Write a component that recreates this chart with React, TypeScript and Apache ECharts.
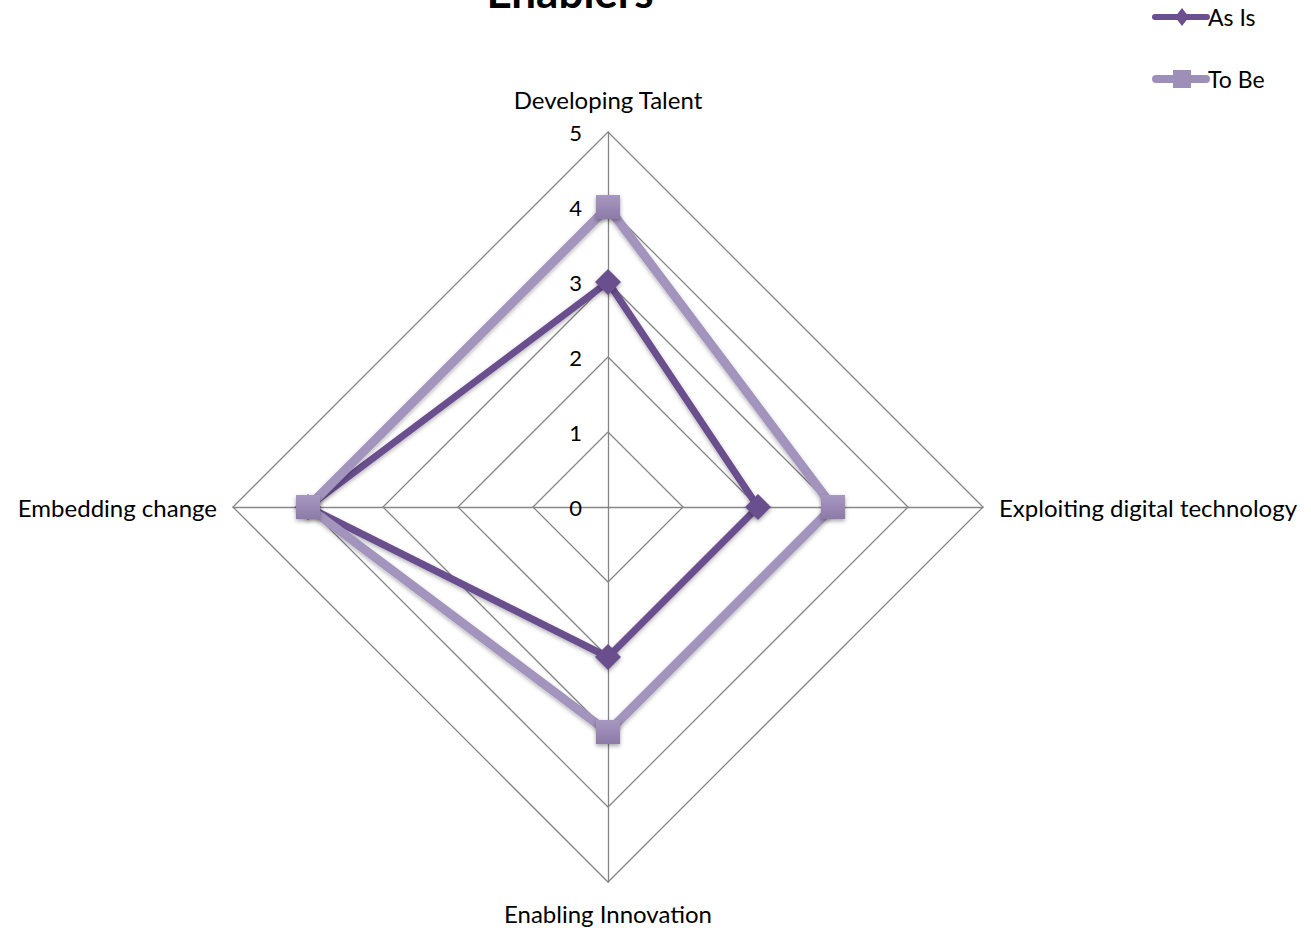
import React, { useEffect, useRef } from "react";
import * as echarts from "echarts";

const indicatorNames = [
  "Developing Talent",
  "Embedding change",
  "Enabling Innovation",
  "Exploiting digital technology",
];
const maxValue = 5;
const asIs = [3, 4, 2, 2];
const toBe = [4, 4, 3, 3];
const seriesNames = ["As Is", "To Be"];
const titleText = "Enablers";

const FONT = "Lato, 'Open Sans', sans-serif";

const asIsIcon =
  "path://M3,6 L55,6 A3,3 0 0 1 55,12 L3,12 A3,3 0 0 1 3,6 Z M30,0 L37,9 L30,18 L23,9 Z";
const toBeIcon =
  "path://M4,5 L54,5 A4,4 0 0 1 54,13 L4,13 A4,4 0 0 1 4,5 Z M21,0 L39,0 L39,18 L21,18 Z";

export default function App() {
  const ref = useRef<HTMLDivElement>(null);
  useEffect(() => {
    document.body.style.margin = "0";
    const chart = echarts.init(ref.current!, null, { renderer: "svg" });
    chart.setOption({
      animation: false,
      backgroundColor: "#ffffff",
      textStyle: { fontFamily: FONT },
      graphic: [
        {
          type: "text",
          x: 570,
          y: -31,
          style: {
            text: titleText,
            align: "center",
            verticalAlign: "top",
            font: "bold 44px " + FONT,
            fill: "#000",
          },
        },
      ],
      legend: {
        orient: "vertical",
        left: 1147,
        top: 0,
        itemGap: 38,
        itemWidth: 58,
        itemHeight: 18,
        textStyle: {
          fontSize: 23,
          lineHeight: 24,
          color: "#000",
          fontFamily: FONT,
          padding: [0, 0, 0, -7],
        },
        data: [
          { name: seriesNames[0], icon: asIsIcon, itemStyle: { color: "#6b4f8e" } },
          { name: seriesNames[1], icon: toBeIcon, itemStyle: { color: "#9e8fb9" } },
        ],
      },
      radar: {
        center: [608, 507],
        radius: 375,
        startAngle: 90,
        splitNumber: 5,
        shape: "polygon",
        nameGap: 16,
        axisName: {
          color: "#000",
          fontSize: 24,
          lineHeight: 24,
          fontFamily: FONT,
          padding: [3, 0, 5, 0],
        },
        splitArea: { show: false },
        splitLine: { lineStyle: { color: "#868686", width: 1.3 } },
        axisLine: { lineStyle: { color: "#868686", width: 1.3 } },
        axisTick: { show: false },
        axisLabel: { show: false },
        indicator: indicatorNames.map((n, i) => ({
          name: n,
          max: maxValue,
          min: 0,
          axisLabel:
            i === 0
              ? { show: true, color: "#000", fontSize: 22, fontFamily: FONT, margin: 26 }
              : { show: false },
        })),
      },
      series: [
        {
          type: "radar",
          z: 2,
          data: [
            {
              name: seriesNames[0],
              value: asIs,
              symbol: "diamond",
              symbolSize: 26,
              lineStyle: {
                color: "#6b4f8e",
                width: 7,
                shadowColor: "rgba(0,0,0,0.3)",
                shadowBlur: 4,
                shadowOffsetY: 2,
              },
              itemStyle: {
                color: "#6b4f8e",
                shadowColor: "rgba(0,0,0,0.35)",
                shadowBlur: 4,
                shadowOffsetY: 2,
              },
            },
          ],
        },
        {
          type: "radar",
          z: 3,
          data: [
            {
              name: seriesNames[1],
              value: toBe,
              symbol: "rect",
              symbolSize: 24,
              lineStyle: {
                color: "#a394bd",
                width: 9,
                shadowColor: "rgba(0,0,0,0.3)",
                shadowBlur: 4,
                shadowOffsetY: 2,
              },
              itemStyle: {
                color: new echarts.graphic.LinearGradient(0, 0, 0, 1, [
                  { offset: 0, color: "#a798c0" },
                  { offset: 1, color: "#8c7aa8" },
                ]),
                shadowColor: "rgba(0,0,0,0.35)",
                shadowBlur: 4,
                shadowOffsetY: 2,
              },
            },
          ],
        },
      ],
    });
    return () => chart.dispose();
  }, []);
  return (
    <div
      ref={ref}
      style={{ position: "absolute", left: 0, top: 0, width: 1311, height: 931 }}
    />
  );
}
